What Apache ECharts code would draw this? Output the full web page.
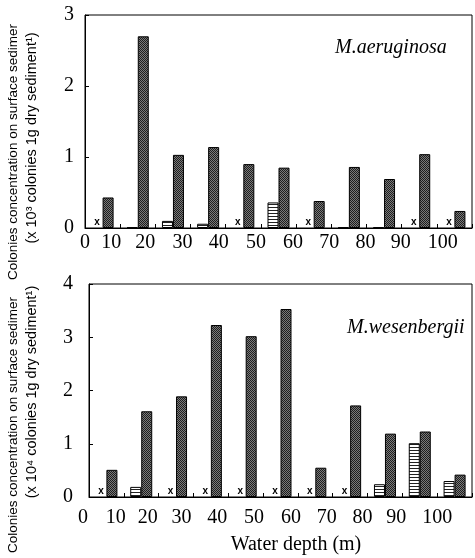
<!DOCTYPE html>
<html><head><meta charset="utf-8">
<script src="https://cdn.jsdelivr.net/npm/echarts@6/dist/echarts.min.js"></script>
<style>html,body{margin:0;padding:0;background:#fff}#c{width:475px;height:558px}</style>
</head><body><div id="c"></div>
<script>
// ---- data ----
const groups = ['5','15','25','35','45','55','65','75','85','95','105'];
const xTicks = [0,10,20,30,40,50,60,70,80,90,100];
const aerugLight = ['x',0.01,0.10,0.06,'x',0.36,'x',0.01,0.01,'x','x'];
const aerugDark  = [0.43,2.70,1.03,1.14,0.90,0.85,0.38,0.86,0.69,1.04,0.24];
const wesenLight = ['x',0.19,'x','x','x','x','x','x',0.24,1.01,0.30];
const wesenDark  = [0.51,1.61,1.89,3.23,3.02,3.53,0.55,1.72,1.19,1.23,0.42];
const topYMax = 3;
const botYMax = 4;
const speciesNames = ['M.aeruginosa','M.wesenbergii'];
const yTitle1 = 'Colonies concentration on surface sedimer';
const yTitle2Top = '(x 10\u00b3 colonies 1g dry sediment\u00b9)';
const yTitle2Bot = '(x 10\u2074 colonies 1g dry sediment\u00b9)';
const xTitle = 'Water depth (m)';

// ---- styles (label nudges in px, as printed in the scan) ----
const topLabelShift = [0,-9,-10,-8,-7,-5,-3,-2,-1,-1,6];
const botLabelShift = [-6,-8,-11,-12,-11,-9,-7,-6,-5,-6,0];
const SERIF = "'Liberation Serif','Times New Roman',serif";
const SANS = "'Liberation Sans',Arial,sans-serif";
function makeCanvas(w,h,draw){const c=document.createElement('canvas');c.width=w;c.height=h;draw(c.getContext('2d'));return c;}
const darkPat = makeCanvas(2,2,g=>{g.fillStyle='#7a7a7a';g.fillRect(0,0,2,2);g.fillStyle='#1e1e1e';g.fillRect(0,0,1,1);g.fillRect(1,1,1,1);});
const lightPat = makeCanvas(1,3,g=>{g.fillStyle='#ffffff';g.fillRect(0,0,1,3);g.fillStyle='#222222';g.fillRect(0,0,1,1);});

function lightData(arr){
  return arr.map(v => v === 'x'
    ? {value:0, itemStyle:{borderWidth:0}, label:{show:true, position:'top', distance:1, formatter:'x', fontSize:10, fontWeight:'bold', fontFamily:SANS, color:'#000'}}
    : v);
}
function catAxis(gi){return {type:'category', gridIndex:gi, data:groups, show:false, boundaryGap:true};}
function valXAxis(gi, margin, shifts){
  const rich = {};
  shifts.forEach((s,i) => {
    rich['s'+i] = {fontSize:20, fontFamily:SERIF, color:'#000',
      padding: s < 0 ? [0, -2*s, 0, 0] : [0, 0, 0, 2*s]};
  });
  return {type:'value', gridIndex:gi, min:0, max:110, interval:10, position:'bottom',
    axisLine:{show:true, onZero:false, lineStyle:{color:'#000', width:1}},
    axisTick:{show:true, inside:true, length:4, lineStyle:{color:'#000'}},
    splitLine:{show:false},
    axisLabel:{margin:margin, fontSize:20, fontFamily:SERIF, color:'#000', rich:rich,
      formatter:v => { const i = xTicks.indexOf(v); return i < 0 ? '' : '{s'+i+'|'+v+'}'; }}};
}
function yAxis(gi, max, margin){
  return {type:'value', gridIndex:gi, min:0, max:max, interval:1,
    axisLine:{show:true, lineStyle:{color:'#000', width:1}},
    axisTick:{show:true, inside:true, length:4, lineStyle:{color:'#000'}},
    splitLine:{show:false},
    axisLabel:{margin:margin, fontSize:20, fontFamily:SERIF, color:'#000'}};
}
function barSeries(xi, yi, data, pat){
  return {type:'bar', xAxisIndex:xi, yAxisIndex:yi, data:data, barWidth:11, barGap:'0%',
    animation:false, silent:true,
    itemStyle:{color:{image:pat, repeat:'repeat'}, borderColor:'#000', borderWidth:1}};
}
function vText(x,y,text,font){
  return {type:'text', x:x, y:y, rotation:Math.PI/2, silent:true,
    style:{text:text, font:font, fill:'#000', align:'center', verticalAlign:'middle', textAlign:'center', textVerticalAlign:'middle'}};
}

const chart = echarts.init(document.getElementById('c'), null, {renderer:'canvas'});
chart.setOption({
  animation:false,
  backgroundColor:'#fff',
  title:[
    {text:speciesNames[0], left:335, top:38, padding:0, textStyle:{fontFamily:SERIF, fontStyle:'italic', fontWeight:'normal', fontSize:20, color:'#000'}},
    {text:speciesNames[1], left:347, top:318, padding:0, textStyle:{fontFamily:SERIF, fontStyle:'italic', fontWeight:'normal', fontSize:20, color:'#000'}}
  ],
  grid:[
    {left:85, top:15, width:396, height:213, show:true, borderColor:'#000', borderWidth:1, containLabel:false},
    {left:89, top:284, width:396, height:213, show:true, borderColor:'#000', borderWidth:1, containLabel:false}
  ],
  xAxis:[catAxis(0), valXAxis(0,5,topLabelShift), catAxis(1), valXAxis(1,11,botLabelShift)],
  yAxis:[yAxis(0, topYMax, 11), yAxis(1, botYMax, 16)],
  series:[
    barSeries(0,0,lightData(aerugLight), lightPat),
    barSeries(0,0,aerugDark, darkPat),
    barSeries(2,1,lightData(wesenLight), lightPat),
    barSeries(2,1,wesenDark, darkPat)
  ],
  graphic:[
    vText(13,152,yTitle1,'13.5px '+SANS),
    vText(32,138,yTitle2Top,'14.5px '+SANS),
    vText(13,425,yTitle1,'13.5px '+SANS),
    vText(32,392,yTitle2Bot,'14.5px '+SANS),
    {type:'text', x:296, y:545, silent:true,
      style:{text:xTitle, font:'20px '+SERIF, fill:'#000', align:'center', verticalAlign:'middle', textAlign:'center', textVerticalAlign:'middle'}}
  ]
});
</script>
</body></html>
